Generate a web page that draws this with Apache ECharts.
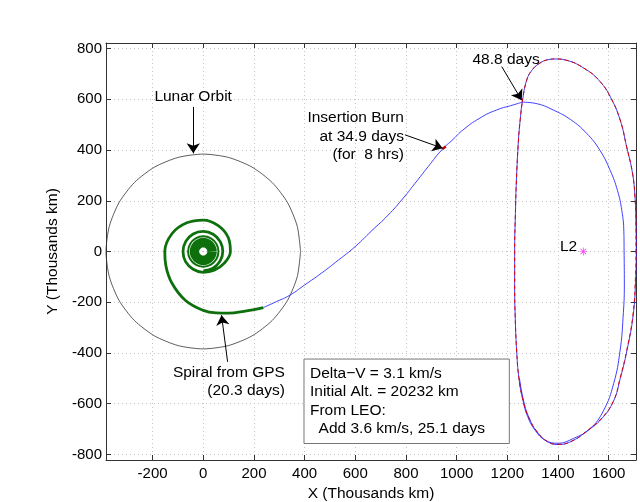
<!DOCTYPE html>
<html><head><meta charset="utf-8">
<script src="https://cdn.jsdelivr.net/npm/echarts@6/dist/echarts.min.js"></script>
<style>html,body{margin:0;padding:0;background:#fff}#c{width:640px;height:502px}</style>
</head><body><div id="c"></div>
<script>
// ---- tick labels ----
const xTicks = [-200, 0, 200, 400, 600, 800, 1000, 1200, 1400, 1600];
const yTicks = [-800, -600, -400, -200, 0, 200, 400, 600, 800];

// ---- lunar orbit (Thousands km) ----
const lunarOrbit = [[384,0],[371,99],[333,192],[272,272],[192,333],[99,371],[0,384],[-99,371],[-192,333],[-272,272],[-333,192],[-371,99],[-384,0],[-371,-99],[-333,-192],[-272,-272],[-192,-333],[-99,-371],[0,-384],[99,-371],[192,-333],[272,-272],[333,-192],[371,-99],[384,0]];

// ---- spiral from GPS ----
const spiralCore = [[35,0],[30,17.5],[17.5,30],[0,35],[-17.5,30],[-30,17.5],[-35,0],[-30,-17.5],[-17.5,-30],[0,-35],[17.5,-30],[30,-17.5],[35,0]];
const spiralRing = [[60,0],[52,30],[30,52],[0,60],[-30,52],[-52,30],[-60,0],[-52,-30],[-30,-52],[0,-60],[30,-52],[52,-30],[60,0]];
const spiralOut = [[0,-76],[38,-66],[66,-38],[77,0],[67,39],[39,68],[0,79],[-40,69],[-69,40],[-80,0],[-70,-40],[-40,-70],[0,-82],[43,-74],[82,-47],[107,0],[98,56],[59,102],[0,124],[-65,113],[-123,71],[-152,0],[-148,-54],[-124,-124],[-70,-193],[0,-232],[50,-242],[100,-243],[160,-236],[237,-221]];

// ---- transfer trajectory ----
const transfer = [[237,-221],[290,-197],[342,-172],[400,-132],[467,-85],[533,-34],[599,19],[665,82],[730,144],[783,203],[836,269],[888,335],[941,400],[987,443],[1026,480],[1092,526],[1158,558],[1224,578],[1259,589]];
const haloFirstLoop = [[1259,589],[1320,582],[1381,558],[1450,520],[1513,466],[1565,400],[1606,320],[1635,240],[1652,162],[1660,80],[1661,4],[1662,-128],[1657,-260],[1645,-392],[1620,-520],[1579,-629],[1525,-700],[1461,-737],[1400,-756],[1350,-744],[1310,-705],[1280,-650],[1262,-588],[1246,-500],[1237,-392],[1231,-250],[1229,-128],[1229,0],[1232,150],[1236,280],[1244,439],[1251,520],[1259,589]];
const haloSecondLoop = [[1259,589],[1277,677],[1300,718],[1329,743],[1360,756],[1392,759],[1430,755],[1513,716],[1566,670],[1606,611],[1645,520],[1671,413],[1694,310],[1704,215],[1708,100],[1709,0],[1707,-100],[1697,-250],[1672,-392],[1646,-500],[1619,-590],[1570,-662],[1513,-709],[1460,-745],[1405,-761],[1362,-752],[1318,-712],[1287,-658],[1265,-592],[1248,-500]];
// ---- reference halo orbit (dashed) ----
const haloReference = [[1259,589],[1277,677],[1300,718],[1329,743],[1360,756],[1392,759],[1430,755],[1513,716],[1566,670],[1606,611],[1645,520],[1671,413],[1694,310],[1704,215],[1708,100],[1708,0],[1706,-100],[1696,-250],[1671,-392],[1645,-500],[1619,-590],[1570,-660],[1513,-708],[1460,-745],[1405,-760],[1360,-750],[1316,-708],[1285,-655],[1263,-590],[1246,-500],[1237,-392],[1231,-250],[1229,-128],[1229,0],[1232,150],[1236,280],[1244,439],[1251,520],[1259,589]];
const burnSegment = [[944,404],[957,414]];
const L2point = [[1500,0]];

// ---- annotations (data coordinates) ----
const annotations = [
  {text:'Lunar Orbit', at:[-40,611], align:'center'},
  {text:'Insertion Burn\nat 34.9 days\n(for  8 hrs)', at:[792,453], align:'right'},
  {text:'48.8 days', at:[1195,756], align:'center'},
  {text:'Spiral from GPS\n(20.3 days)', at:[322,-514], align:'right'},
  {text:'L2', at:[1442,19], align:'center'}
];
const arrows = [
  [[-39.5,570],[-39.5,387]],
  [[796,460],[945,407]],
  [[1178,729],[1257,596]],
  [[96,-435],[72,-251]]
];
const infoBox = [[397.5,-424],[1208,-757]];
const infoLines = ['Delta\u2212V = 3.1 km/s','Initial Alt. = 20232 km','From LEO:','  Add 3.6 km/s, 25.1 days'];

const FONT = 'Liberation Sans, Arial, Helvetica, sans-serif';
const FS = 15.5;
const X_MIN = -384, X_MAX = 1708, Y_MIN = -822, Y_MAX = 822;

const chart = echarts.init(document.getElementById('c'), null, {renderer:'canvas'});

function axisBase(ticks, show) {
  return {
    type:'value', scale:false,
    axisLine:{show:true, onZero:false, lineStyle:{color:'#333', width:1}},
    axisTick:{show:true, inside:true, length:5, customValues:ticks, lineStyle:{color:'#333'}},
    axisLabel:{show:show, customValues:ticks, color:'#000', fontSize:15, fontFamily:FONT, formatter: v => String(v)},
    splitLine:{show:false},
  };
}
const xBottom = Object.assign(axisBase(xTicks, true), {
  position:'bottom', min:X_MIN, max:X_MAX,
  name:'X (Thousands km)', nameLocation:'middle', nameGap:24,
  nameTextStyle:{color:'#000', fontSize:FS, fontFamily:FONT},
});
xBottom.axisLabel.margin = 6;
xBottom.splitLine = {show:true, lineStyle:{color:'#c4c4c4', type:[1,3], width:1}};
const xTop = Object.assign(axisBase(xTicks, false), {position:'top', min:X_MIN, max:X_MAX});
const yLeft = Object.assign(axisBase(yTicks, true), {
  position:'left', min:Y_MIN, max:Y_MAX,
  name:'Y (Thousands km)', nameLocation:'middle', nameGap:44,
  nameTextStyle:{color:'#000', fontSize:FS, fontFamily:FONT},
});
yLeft.axisLabel.margin = 4;
yLeft.splitLine = {show:true, lineStyle:{color:'#c4c4c4', type:[1,3], width:1}};
const yRight = Object.assign(axisBase(yTicks, false), {position:'right', min:Y_MIN, max:Y_MAX});

const starPath = 'path://M-1,-0.09H1V0.09H-1Z M-0.09,-1H0.09V1H-0.09Z M-0.77,-0.64L0.64,0.77L0.77,0.64L-0.64,-0.77Z M-0.77,0.64L0.64,-0.77L0.77,-0.64L-0.64,0.77Z';

function line(data, color, width, extra) {
  return Object.assign({type:'line', data:data, showSymbol:false, symbol:'none', smooth:0.25,
    lineStyle:{color:color, width:width}, silent:true, clip:true, animation:false}, extra||{});
}

const option = {
  animation:false,
  backgroundColor:'#fff',
  grid:{left:106, top:43, right:4, bottom:42, containLabel:false, outerBoundsMode:'none'},
  xAxis:[xBottom, xTop],
  yAxis:[yLeft, yRight],
  series:[
    line(lunarOrbit, '#333', 0.8, {markLine:{
      silent:true, animation:false, symbol:['none','arrow'], symbolSize:10,
      label:{show:false}, emphasis:{disabled:true},
      lineStyle:{color:'#000', width:1, type:'solid'},
      data: arrows.map(a => [{coord:a[0]},{coord:a[1]}])
    }}),
    line(spiralCore, '#0d700d', 9.5, {smooth:0.5}),
    line(spiralRing, '#0d700d', 2, {smooth:0.5}),
    line(spiralOut, '#0d700d', 2.8, {smooth:0.4}),
    line(transfer, '#2a2aff', 0.9, {smooth:0.55}),
    line(haloFirstLoop.concat(haloSecondLoop.slice(1)), '#2a2aff', 0.9, {smooth:0.45}),
    line(haloReference, '#e00000', 1, {smooth:0.45, lineStyle:{color:'#e00000', width:1, type:[4,3]}}),
    line(burnSegment, '#d00000', 2.5, {smooth:false}),
    {type:'scatter', data:L2point, symbol:starPath, symbolSize:8, itemStyle:{color:'#ff00ff'}, silent:true, animation:false}
  ]
};
chart.setOption(option);

function px(p){ return chart.convertToPixel({gridIndex:0}, p); }
const graphics = [];
annotations.forEach(a => {
  const p = px(a.at);
  graphics.push({type:'text', x:p[0], y:p[1], z:100, silent:true, style:{
    text:a.text, fill:'#000', font: FS + 'px ' + FONT, align:a.align, verticalAlign:'middle', lineHeight:18.5
  }});
});
const b0 = px(infoBox[0]), b1 = px(infoBox[1]);
graphics.push({type:'rect', z:100, silent:true, shape:{x:b0[0], y:b0[1], width:b1[0]-b0[0], height:b1[1]-b0[1]},
  style:{fill:'#fff', stroke:'#777', lineWidth:1}});
graphics.push({type:'text', z:101, silent:true, x:b0[0]+6, y:(b0[1]+b1[1])/2, style:{
  text:infoLines.join('\n'), fill:'#000', font: FS + 'px ' + FONT, align:'left', verticalAlign:'middle', lineHeight:18.3
}});
chart.setOption({graphic:graphics});
</script>
</body></html>
